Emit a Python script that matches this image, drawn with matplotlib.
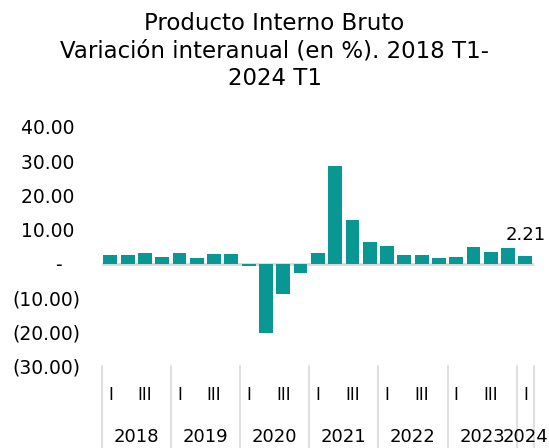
import matplotlib
matplotlib.use("Agg")
import matplotlib.pyplot as plt
from matplotlib.ticker import FuncFormatter

# datos: variacion interanual del PIB (%), 2018 T1 - 2024 T1
years = ["2018", "2019", "2020", "2021", "2022", "2023", "2024"]
quarters_per_year = [4, 4, 4, 4, 4, 4, 1]
quarter_names = ["I", "II", "III", "IV"]
quarter_shown = ["I", "III"]
values = [2.6, 2.5, 3.0, 2.0, 3.0, 1.7, 2.7, 2.7,
          -0.8, -20.3, -8.9, -2.8,
          3.2, 28.7, 12.9, 6.4,
          5.0, 2.6, 2.4, 1.7,
          1.8, 4.8, 3.5, 4.5,
          2.21]
yticks = [-30, -20, -10, 0, 10, 20, 30, 40]

bar_color = "#089792"
grid_color = "#d9d9d9"

fig = plt.figure(figsize=(5.49, 4.48), dpi=100)
ax = fig.add_axes([101.7 / 549, (448 - 366) / 448, 432.3 / 549, 239 / 448])

x = list(range(len(values)))
ax.bar(x, values, width=0.8, color=bar_color, zorder=3)
ax.axhline(0, color=grid_color, linewidth=2, zorder=2)

ax.set_xlim(-0.5, len(values) - 0.5)
ax.set_ylim(-30, 40)
ax.set_yticks(yticks)


def acct(v, pos):
    # formato contable
    if v == 0:
        return "-   "
    if v < 0:
        return "({:.2f})".format(-v)
    return "{:.2f} ".format(v)


ax.yaxis.set_major_formatter(FuncFormatter(acct))
ax.tick_params(axis="y", length=0, pad=15, labelsize=13.5)
ax.set_xticks([])
for s in ax.spines.values():
    s.set_visible(False)

# etiquetas de trimestre y anio
sep_bottom = (366 - 448) / 239
i = 0
for yr, nq in zip(years, quarters_per_year):
    ax.plot([i - 0.5, i - 0.5], [0, sep_bottom], color=grid_color, lw=1.2,
            transform=ax.get_xaxis_transform(), clip_on=False)
    for q in range(nq):
        if quarter_names[q] in quarter_shown:
            ax.text(i + q, -0.121, quarter_names[q], ha="center", va="center",
                    fontsize=12, transform=ax.get_xaxis_transform())
    ax.text(i + (nq - 1) / 2, -0.297, yr, ha="center",
            va="center", fontsize=13, transform=ax.get_xaxis_transform())
    i += nq
ax.plot([i - 0.5, i - 0.5], [0, sep_bottom], color=grid_color, lw=1.2,
        transform=ax.get_xaxis_transform(), clip_on=False)

# etiqueta del ultimo dato
ax.annotate("{:.2f}".format(values[-1]), (x[-1], values[-1]), xytext=(0, 9),
            textcoords="offset points", ha="center", va="bottom", fontsize=13)

fig.text(0.5, 0.974, "Producto Interno Bruto\nVariación interanual (en %). 2018 T1-\n2024 T1",
         ha="center", va="top", fontsize=16.5, linespacing=1.27)

fig.savefig("out.png", dpi=100)
